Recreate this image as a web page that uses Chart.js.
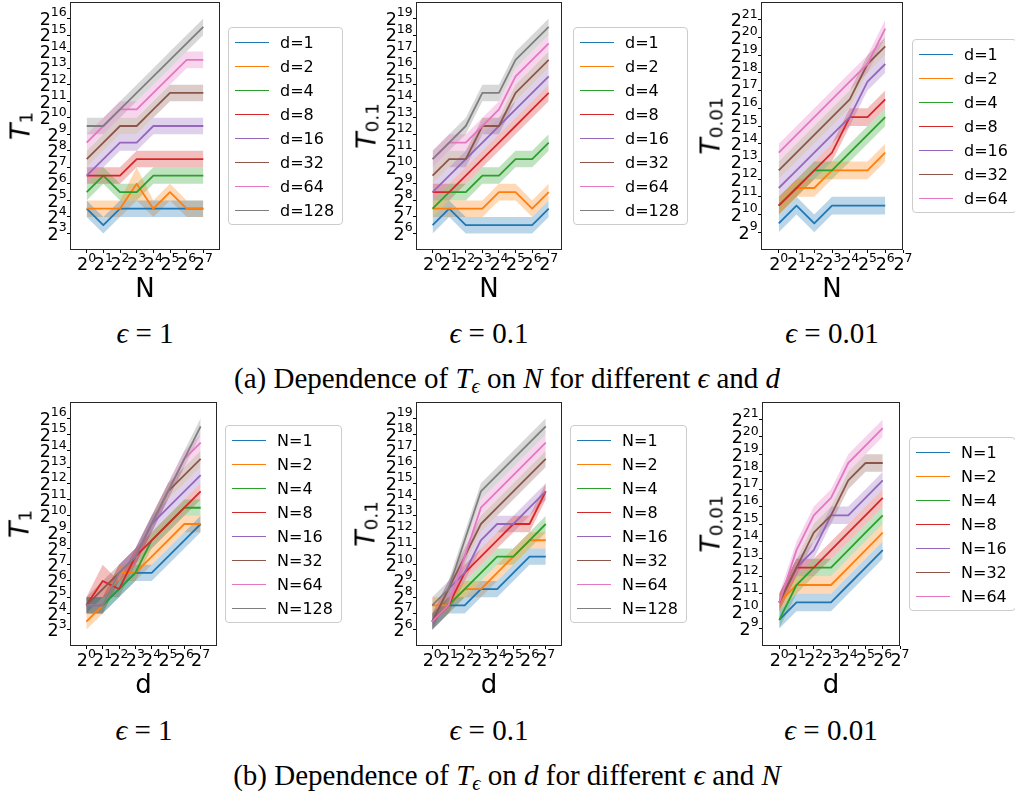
<!DOCTYPE html>
<html>
<head>
<meta charset="utf-8">
<script src="https://cdn.jsdelivr.net/npm/chart.js@4.4.1/dist/chart.umd.min.js"></script>
<style>
  body { margin: 0; background: #fff; }
  #fig { position: relative; width: 1015px; height: 795px; overflow: hidden; font-family: 'DejaVu Sans', sans-serif; color: #000; }
  #fig canvas { position: absolute; }
  .legend { position: absolute; transform: translateY(-50%); border: 1px solid #cccccc; border-radius: 4px; padding: 2px 8px 2px 6px; font-size: 16px; background: rgba(255,255,255,0.8); }
  .legend div { display: flex; align-items: center; height: 24px; white-space: nowrap; }
  .legend .key { display: inline-block; width: 34px; height: 0; border-top: 1.8px solid; margin-right: 11px; }
  .ylabel { position: absolute; transform: translate(-50%, -50%) rotate(-90deg); font-size: 27px; line-height: 1; white-space: nowrap; }
  .ylabel i { font-style: oblique; }
  .ylabel sub { font-size: 68%; vertical-align: -0.18em; line-height: 0; }
  .xlabel { position: absolute; transform: translateX(-50%); font-size: 26px; line-height: 1; }
  .tex { position: absolute; transform: translate(-50%, -50%); font-family: 'Liberation Serif', serif; font-size: 29px; line-height: 1; white-space: nowrap; }
  .tex sub { font-size: 70%; vertical-align: -0.25em; line-height: 0; }
</style>
</head>
<body>
<div id="fig">
  <div class="tex" style="left:145px; top:333px"><i>ϵ</i> = 1</div>
  <div class="tex" style="left:489px; top:333px"><i>ϵ</i> = 0.1</div>
  <div class="tex" style="left:832px; top:333px"><i>ϵ</i> = 0.01</div>
  <div class="tex" style="left:507px; top:378px">(a) Dependence of <i>T</i><sub><i>ϵ</i></sub> on <i>N</i> for different <i>ϵ</i> and <i>d</i></div>
  <div class="tex" style="left:144px; top:730px"><i>ϵ</i> = 1</div>
  <div class="tex" style="left:489px; top:730px"><i>ϵ</i> = 0.1</div>
  <div class="tex" style="left:831px; top:730px"><i>ϵ</i> = 0.01</div>
  <div class="tex" style="left:507px; top:775px">(b) Dependence of <i>T</i><sub><i>ϵ</i></sub> on <i>d</i> for different <i>ϵ</i> and <i>N</i></div>
</div>
<script>
// N and d both run over powers of two; positions on the axes are log2 of them
const sizes = [1, 2, 4, 8, 16, 32, 64, 128];
const sizeExp = [0, 1, 2, 3, 4, 5, 6, 7];
const palette = ['#1f77b4', '#ff7f0e', '#2ca02c', '#d62728', '#9467bd', '#8c564b', '#e377c2', '#7f7f7f'];

// log2 T_eps, rows: d = 1, 2, 4, ...  columns: N = 1, 2, 4, ...
const logT1 = [
  [4.5, 3.5, 4.5, 4.5, 4.5, 4.5, 4.5, 4.5],
  [4.5, 4.5, 4.5, 6.0, 4.5, 5.5, 4.5, 4.5],
  [5.5, 6.5, 5.5, 5.5, 6.5, 6.5, 6.5, 6.5],
  [6.5, 6.5, 6.5, 7.5, 7.5, 7.5, 7.5, 7.5],
  [6.5, 7.5, 8.5, 8.5, 9.5, 9.5, 9.5, 9.5],
  [7.5, 8.5, 9.5, 9.5, 10.5, 11.5, 11.5, 11.5],
  [8.5, 9.5, 10.5, 10.5, 11.5, 12.5, 13.5, 13.5],
  [9.5, 9.5, 10.5, 11.5, 12.5, 13.5, 14.5, 15.5]
];
const logT1Lo = [
  [4, 3, 4, 4, 4, 4, 4, 4],
  [4, 4, 4, 5, 4, 5, 4, 4],
  [5, 6, 5, 5, 6, 6, 6, 6],
  [6, 6, 6, 7, 7, 7, 7, 7],
  [6, 7, 8, 8, 9, 9, 9, 9],
  [7, 8, 9, 9, 10, 11, 11, 11],
  [8, 9, 10, 10, 11, 12, 13, 13],
  [9, 9, 10, 11, 12, 13, 14, 15]
];
const logT1Hi = [
  [5, 4, 5, 5, 5, 5, 5, 5],
  [5, 5, 5, 7, 5, 6, 5, 5],
  [6, 7, 6, 6, 7, 7, 7, 7],
  [7, 7, 7, 8, 8, 8, 8, 8],
  [7, 8, 9, 9, 10, 10, 10, 10],
  [8, 9, 10, 10, 11, 12, 12, 12],
  [9, 10, 11, 11, 12, 13, 14, 14],
  [10, 10, 11, 12, 13, 14, 15, 16]
];

const logT01 = [
  [6.5, 7.5, 6.5, 6.5, 6.5, 6.5, 6.5, 7.5],
  [7.5, 7.5, 7.5, 7.5, 8.5, 8.5, 7.5, 8.5],
  [7.5, 8.5, 8.5, 9.5, 9.5, 10.5, 10.5, 11.5],
  [8.5, 8.5, 9.5, 10.5, 11.5, 12.5, 13.5, 14.5],
  [8.5, 9.5, 10.5, 11.5, 12.5, 13.5, 14.5, 15.5],
  [9.5, 10.5, 10.5, 12.5, 12.5, 14.5, 15.5, 16.5],
  [10.5, 11.5, 11.5, 12.5, 13.5, 15.5, 16.5, 17.5],
  [10.5, 11.5, 12.5, 14.5, 14.5, 16.5, 17.5, 18.5]
];
const logT01Lo = [
  [6, 7, 6, 6, 6, 6, 6, 7],
  [7, 7, 7, 7, 8, 8, 7, 8],
  [7, 8, 8, 9, 9, 10, 10, 11],
  [8, 8, 9, 10, 11, 12, 13, 14],
  [8, 9, 10, 11, 12, 13, 14, 15],
  [9, 10, 10, 12, 12, 14, 15, 16],
  [10, 11, 11, 12, 13, 15, 16, 17],
  [10, 11, 12, 14, 14, 16, 17, 18]
];
const logT01Hi = [
  [7, 8, 7, 7, 7, 7, 7, 8],
  [8, 8, 8, 8, 9, 9, 8, 9],
  [8, 9, 9, 10, 10, 11, 11, 12],
  [9, 9, 10, 11, 12, 13, 14, 15],
  [9, 10, 11, 12, 13, 14, 15, 16],
  [10, 11, 11, 13, 13, 15, 16, 17],
  [11, 12, 12, 13, 14, 16, 17, 18],
  [11, 12, 13, 15, 15, 17, 18, 19]
];

const logT001 = [
  [9.5, 10.5, 9.5, 10.5, 10.5, 10.5, 10.5],
  [10.5, 11.5, 11.5, 12.5, 12.5, 12.5, 13.5],
  [10.5, 11.5, 12.5, 12.5, 13.5, 14.5, 15.5],
  [10.5, 11.5, 12.5, 13.5, 15.5, 15.5, 16.5],
  [11.5, 12.5, 13.5, 14.5, 15.5, 17.5, 18.5],
  [12.5, 13.5, 14.5, 15.5, 16.5, 18.5, 19.5],
  [13.5, 14.5, 15.5, 16.5, 17.5, 18.5, 20.5]
];
const logT001Lo = [
  [9, 10, 9, 10, 10, 10, 10],
  [10, 11, 11, 12, 12, 12, 13],
  [10, 11, 12, 12, 13, 14, 15],
  [10, 11, 12, 13, 15, 15, 16],
  [11, 12, 13, 14, 15, 17, 18],
  [12, 13, 14, 15, 16, 18, 19],
  [13, 14, 15, 16, 17, 18, 20]
];
const logT001Hi = [
  [10, 11, 10, 11, 11, 11, 11],
  [11, 12, 12, 13, 13, 13, 14],
  [11, 12, 13, 13, 14, 15, 16],
  [11, 12, 13, 14, 16, 16, 17],
  [12, 13, 14, 15, 16, 18, 19],
  [13, 14, 15, 16, 17, 19, 20],
  [14, 15, 16, 17, 18, 19, 21]
];

const yTicksEps1 = [3, 4, 5, 6, 7, 8, 9, 10, 11, 12, 13, 14, 15, 16];
const yTicksEps01 = [6, 7, 8, 9, 10, 11, 12, 13, 14, 15, 16, 17, 18, 19];
const yTicksEps001 = [9, 10, 11, 12, 13, 14, 15, 16, 17, 18, 19, 20, 21];

const AX_W = 70, AX_H = 30, PAD_T = 12, PAD_R = 14;
const BASE_FONT = '17.5px "DejaVu Sans"';
const EXP_FONT = '12.5px "DejaVu Sans"';

// box = [left, top, right, bottom] of the axes frame on the page
const panels = [
  { box: [70, 2, 220, 250], mean: logT1, lo: logT1Lo, hi: logT1Hi, byN: true, xMax: 8, yMin: 2, yMax: 17, yTicks: yTicksEps1, sub: '1', yLabX: 20, legX: 228 },
  { box: [416, 2, 562, 250], mean: logT01, lo: logT01Lo, hi: logT01Hi, byN: true, xMax: 7.8, yMin: 5, yMax: 20, yTicks: yTicksEps01, sub: '0.1', yLabX: 366, legX: 573 },
  { box: [761, 2, 903, 250], mean: logT001, lo: logT001Lo, hi: logT001Hi, byN: true, xMax: 7, yMin: 8, yMax: 22, yTicks: yTicksEps001, sub: '0.01', yLabX: 710, legX: 912 },
  { box: [70, 402, 217, 646], mean: logT1, lo: logT1Lo, hi: logT1Hi, byN: false, xMax: 8, yMin: 2, yMax: 17, yTicks: yTicksEps1, sub: '1', yLabX: 19, legX: 225 },
  { box: [416, 402, 562, 646], mean: logT01, lo: logT01Lo, hi: logT01Hi, byN: false, xMax: 8, yMin: 5, yMax: 20, yTicks: yTicksEps01, sub: '0.1', yLabX: 365, legX: 570 },
  { box: [762, 402, 900, 646], mean: logT001, lo: logT001Lo, hi: logT001Hi, byN: false, xMax: 7, yMin: 8, yMax: 22, yTicks: yTicksEps001, sub: '0.01', yLabX: 710, legX: 909 }
];

function withAlpha(hex, a) {
  const n = parseInt(hex.slice(1), 16);
  return `rgba(${n >> 16}, ${(n >> 8) & 255}, ${n & 255}, ${a})`;
}

// spines on all four sides
const frame = {
  id: 'frame',
  afterDraw(chart) {
    const { ctx, chartArea: a } = chart;
    ctx.save();
    ctx.strokeStyle = '#262626';
    ctx.lineWidth = 1;
    ctx.strokeRect(a.left + 0.5, a.top + 0.5, a.right - a.left - 1, a.bottom - a.top - 1);
    ctx.restore();
  }
};

// tick labels written as 2 with a raised exponent, at the scales' own tick positions
const powerTicks = {
  id: 'powerTicks',
  afterDraw(chart) {
    const ctx = chart.ctx;
    const sx = chart.scales.x, sy = chart.scales.y;
    ctx.save();
    ctx.fillStyle = '#000';
    ctx.textAlign = 'left';
    ctx.textBaseline = 'alphabetic';
    ctx.font = BASE_FONT;
    const wBase = ctx.measureText('2').width;
    const draw = (v, left, baseline) => {
      ctx.font = BASE_FONT;
      ctx.fillText('2', left, baseline);
      ctx.font = EXP_FONT;
      ctx.fillText(String(v), left + wBase, baseline - 8.5);
    };
    const expWidth = v => { ctx.font = EXP_FONT; return ctx.measureText(String(v)).width; };
    sx.ticks.forEach(t => {
      const px = sx.getPixelForValue(t.value);
      const w = wBase + expWidth(t.value);
      draw(t.value, px - w / 2, sx.top + 20);
    });
    sy.ticks.forEach(t => {
      const py = sy.getPixelForValue(t.value);
      const w = wBase + expWidth(t.value);
      draw(t.value, sy.right - 3.3 - w, py + 6.4);
    });
    ctx.restore();
  }
};

// one series per row (x = N) or per column (x = d)
function buildSeries(p) {
  const n = p.mean.length;
  const out = [];
  for (let k = 0; k < n; k++) {
    const pts = m => sizeExp.slice(0, n).map((x, i) => ({ x: x, y: p.byN ? m[k][i] : m[i][k] }));
    out.push({
      label: (p.byN ? 'd=' : 'N=') + sizes[k],
      color: palette[k],
      mean: pts(p.mean),
      lo: pts(p.lo),
      hi: pts(p.hi)
    });
  }
  return out;
}

const fig = document.getElementById('fig');

panels.forEach(p => {
  const [l, t, r, b] = p.box;
  const list = buildSeries(p);

  const canvas = document.createElement('canvas');
  canvas.width = r - l + AX_W + PAD_R;
  canvas.height = b - t + PAD_T + AX_H;
  canvas.style.left = (l - AX_W) + 'px';
  canvas.style.top = (t - PAD_T) + 'px';
  fig.appendChild(canvas);

  const datasets = [];
  list.forEach(s => {
    datasets.push({ data: s.hi, borderWidth: 0, borderColor: 'transparent', pointRadius: 0, fill: '+1', backgroundColor: withAlpha(s.color, 0.3), order: 100 });
    datasets.push({ data: s.lo, borderWidth: 0, borderColor: 'transparent', pointRadius: 0, fill: false, order: 100 });
  });
  list.forEach((s, k) => {
    datasets.push({ label: s.label, data: s.mean, borderColor: s.color, borderWidth: 1.8, pointRadius: 0, fill: false, order: list.length - k });
  });

  new Chart(canvas, {
    type: 'line',
    data: { datasets: datasets },
    options: {
      responsive: false,
      animation: false,
      devicePixelRatio: 1,
      events: [],
      layout: { padding: { top: PAD_T, right: PAD_R, left: 0, bottom: 0 } },
      elements: { line: { tension: 0, borderJoinStyle: 'round' } },
      plugins: { legend: { display: false }, tooltip: { enabled: false } },
      scales: {
        x: {
          type: 'linear',
          min: -1,
          max: p.xMax,
          afterBuildTicks: s => { s.ticks = sizeExp.map(v => ({ value: v })); },
          afterFit: s => { s.height = AX_H; },
          ticks: { display: false },
          grid: { drawOnChartArea: false, tickLength: 3, color: '#000' },
          border: { display: false }
        },
        y: {
          type: 'linear',
          min: p.yMin,
          max: p.yMax,
          afterBuildTicks: s => { s.ticks = p.yTicks.map(v => ({ value: v })); },
          afterFit: s => { s.width = AX_W; },
          ticks: { display: false },
          grid: { drawOnChartArea: false, tickLength: 3, color: '#000' },
          border: { display: false }
        }
      }
    },
    plugins: [frame, powerTicks]
  });

  // axis titles
  const cx = (l + r) / 2, cy = (t + b) / 2;
  const yl = document.createElement('div');
  yl.className = 'ylabel';
  yl.style.left = p.yLabX + 'px';
  yl.style.top = cy + 'px';
  yl.innerHTML = '<i>T</i><sub>' + p.sub + '</sub>';
  fig.appendChild(yl);

  const xl = document.createElement('div');
  xl.className = 'xlabel';
  xl.style.left = cx + 'px';
  xl.style.top = (t < 100 ? 275 : 671) + 'px';
  xl.textContent = p.byN ? 'N' : 'd';
  fig.appendChild(xl);

  // legend box to the right of the axes
  const leg = document.createElement('div');
  leg.className = 'legend';
  leg.style.left = p.legX + 'px';
  leg.style.top = cy + 'px';
  list.forEach(s => {
    const row = document.createElement('div');
    const key = document.createElement('span');
    key.className = 'key';
    key.style.borderTopColor = s.color;
    row.appendChild(key);
    row.appendChild(document.createTextNode(s.label));
    leg.appendChild(row);
  });
  fig.appendChild(leg);
});
</script>
</body>
</html>
